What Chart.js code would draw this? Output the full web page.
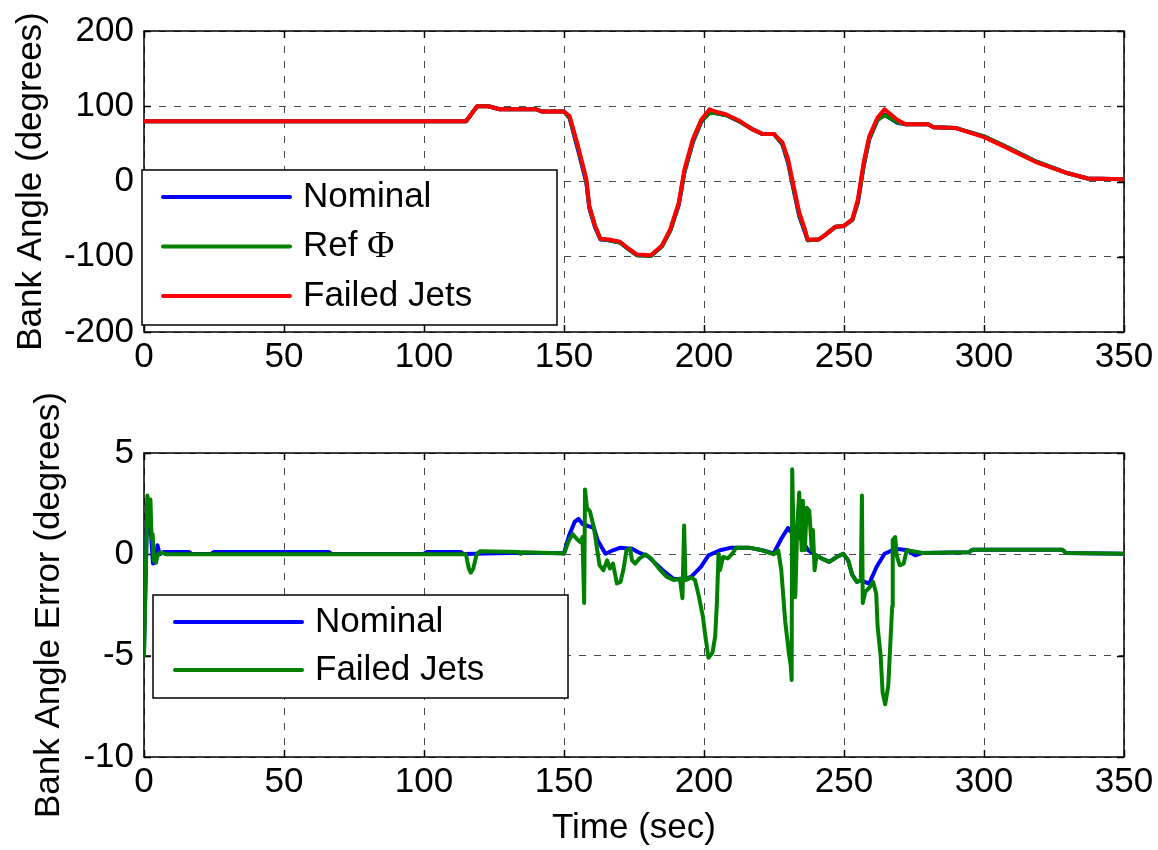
<!DOCTYPE html>
<html>
<head>
<meta charset="utf-8">
<title>Bank Angle</title>
<script src="https://cdn.jsdelivr.net/npm/chart.js@4.4.1/dist/chart.umd.min.js"></script>
<style>
  html, body { margin: 0; padding: 0; background: #ffffff; }
  #wrap { position: relative; width: 1158px; height: 850px; overflow: hidden; background: #ffffff; }
  canvas { position: absolute; left: 0; }
  #bank { top: 0; width: 1158px; height: 420px; }
  #err { top: 360px; width: 1158px; height: 490px; }
</style>
</head>
<body>
<div id="wrap">
  <canvas id="bank" width="1158" height="420"></canvas>
  <canvas id="err" width="1158" height="490"></canvas>
</div>
<script>
// ---- Bank angle history (deg) ----
const bankTime    = [0, 115, 119, 123, 127, 140, 142, 150, 152, 155, 158, 159, 161, 163, 166, 170, 173, 176, 181, 185, 188, 191, 193, 196, 199, 202, 204, 208, 213, 217, 221, 225, 228, 230, 232, 234, 236, 237, 241, 243, 247, 250, 253, 255, 257, 259, 262, 264.5, 269, 272, 280, 282, 290, 300, 308, 319, 329, 337, 350];
const bankNominal = [80, 80, 100, 100, 96, 96, 93, 93, 84, 42, -2, -35, -60, -77, -78, -81, -90, -98, -99, -86, -65, -31, 12, 52, 79, 92, 91, 88, 79, 70, 63, 63, 49, 25, -11, -46, -67, -78, -77, -72, -60, -59, -51, -27, 20, 56, 82, 89, 78, 76, 76, 72, 71, 60, 46, 26, 12, 4, 3];
const bankRef     = [80, 80, 100, 100, 96, 96, 93, 93, 85, 45, 0, -33, -58, -76, -78, -81, -90, -98, -99, -86, -65, -30, 13, 53, 80, 91, 91, 88, 79, 70, 63, 63, 50, 27, -9, -44, -65, -78, -77, -72, -60, -59, -51, -26, 21, 57, 82, 88, 79, 76, 76, 72, 71, 60, 46, 26, 12, 4, 3];
const bankFailed  = [80, 80, 100, 100, 96, 96, 93, 93, 87, 47, 3, -32, -58, -76, -77, -80, -89, -97, -98, -85, -63, -28, 16, 56, 82, 96, 93, 89, 80, 70, 63, 63, 52, 30, -6, -41, -63, -77, -77, -72, -60, -59, -50, -23, 25, 60, 85, 96, 82, 76, 76, 72, 71, 59, 45, 25, 12, 4, 3];

// ---- Bank angle error (deg) ----
const errNominalTime = [0, 0.6, 1.2, 2, 2.6, 3.2, 4.3, 4.8, 5.6, 7, 16, 17, 24, 25, 66, 67, 100, 101, 113, 114, 135, 150, 151.8, 153.8, 155.2, 156.6, 158.5, 160.7, 162, 164.8, 167.5, 170.2, 174.3, 177, 180, 185, 189, 193, 195.5, 198.9, 201.6, 205.7, 209.8, 216, 220.8, 224.9, 227.6, 230, 231.7, 234, 237.2, 240, 242, 244.7, 247.4, 249.7, 251.5, 252.9, 254.6, 256, 259, 261.7, 264.5, 268.6, 272.7, 275.4, 278, 294.5, 295.9, 328, 329.3, 350];
const errNominal     = [-4.8, -1, 2.5, 1.5, 0.8, -0.45, -0.4, 0.45, 0, 0.12, 0.12, 0.02, 0.02, 0.12, 0.12, 0.02, 0.02, 0.12, 0.12, 0.02, 0.08, 0.05, 0.93, 1.6, 1.75, 1.5, 1.4, 1.3, 0.7, 0.03, 0.2, 0.33, 0.28, 0.07, -0.1, -0.75, -1.2, -1.25, -1.1, -0.62, -0.05, 0.2, 0.33, 0.33, 0.2, 0.05, 0.77, 1.3, 1.0, 0.9, 0.2, -0.05, -0.2, -0.37, -0.13, 0.03, -0.3, -1.0, -1.36, -1.3, -1.44, -0.6, 0.03, 0.28, 0.2, -0.05, 0.07, 0.1, 0.23, 0.23, 0.07, 0.03];
const errFailedTime  = [0, 0.6, 1.2, 1.6, 2.0, 2.3, 2.7, 3.1, 3.5, 4.2, 5, 6, 8, 115, 116, 116.7, 117.6, 118.8, 120, 134, 134.5, 135, 149, 150, 151.8, 153.1, 154.5, 155.9, 156.6, 157.2, 157.5, 158.2, 159.3, 160.7, 161.7, 162.7, 164.1, 165.4, 166.4, 167.5, 168.9, 170.2, 171.3, 172.3, 173.6, 174.3, 175.4, 177, 179.1, 181.1, 183.9, 186.6, 189.3, 191.4, 192.3, 192.9, 193.4, 195.5, 196.8, 198.2, 199.6, 200.5, 201.6, 203, 204, 204.6, 205.2, 205.7, 206.8, 208.5, 210.1, 211.5, 216, 220.8, 224.9, 226.5, 227.6, 229, 230.3, 231, 231.3, 231.5, 232, 232.6, 233.3, 234, 234.5, 234.9, 235.3, 236, 236.7, 237.6, 238.5, 238.9, 239.5, 240.2, 242, 244.7, 247.4, 249.7, 251.5, 252.9, 254.6, 256, 256.4, 256.7, 257.6, 259.3, 260.4, 261.5, 262, 263.1, 263.8, 264.7, 265.8, 266.5, 267.2, 267.4, 268.3, 268.8, 269.9, 271.3, 272.4, 278.1, 294.5, 295.9, 328, 329.3, 350];
const errFailed      = [-5, -1.2, 2.9, 2.5, 1.4, 2.7, 0.8, 1.0, -0.3, -0.4, 0, 0.1, 0, 0, -0.7, -0.9, -0.7, 0, 0.15, 0.12, 0.02, 0.1, 0.05, 0.03, 0.7, 1.0, 0.77, 0.6, 0.85, -2.4, 3.2, 2.3, 2.1, 1.3, 0.36, -0.54, -0.78, -0.3, -0.7, -0.46, -1.44, -1.36, -0.7, 0.2, 0.28, -0.3, -0.46, -0.2, 0, -0.2, -0.7, -1.1, -1.27, -1.2, -2.17, 1.42, -1.27, -1.14, -1.27, -2.1, -3.07, -4.05, -5.1, -4.87, -4.05, -2.42, 0.03, -0.78, -0.13, -0.2, 0.03, 0.33, 0.33, 0.2, 0, 0.2, -0.78, -3.3, -4.87, -5.5, -6.2, 4.2, 0.7, -2.1, 1.34, 3.05, 1.5, 0.2, 2.65, 0.2, 2.3, 2.15, 0.2, 1.2, -0.78, -0.05, -0.2, -0.37, -0.13, 0.03, -0.3, -1.0, -1.36, -1.27, 2.9, -2.4, -1.85, -1.6, -1.36, -1.93, -3.56, -5.03, -6.83, -7.4, -6.5, -4.54, -2.58, 0.7, 0.85, -0.05, -0.54, -0.46, 0.2, 0.07, 0.1, 0.23, 0.23, 0.07, 0.03];

// ---- Axis ticks and legend text ----
const timeTicks = [0, 50, 100, 150, 200, 250, 300, 350];
const bankTicks = [-200, -100, 0, 100, 200];
const errTicks  = [-10, -5, 0, 5];
const bankLabels = ['Nominal', 'Ref \u03A6', 'Failed Jets'];
const errLabels  = ['Nominal', 'Failed Jets'];

const SANS  = '"Liberation Sans", Arial, Helvetica, sans-serif';
const SERIF = '"Liberation Serif", "Times New Roman", serif';
const FONT_SIZE = 35;
const BLUE = '#0000ff', GREEN = '#008000', RED = '#ff0000';

Chart.defaults.font.family = SANS;
Chart.defaults.font.size = FONT_SIZE;
Chart.defaults.color = '#000000';

const toPoints = (xs, ys) => xs.map((x, i) => ({ x: x, y: ys[i] }));

// Box, inward tick marks
const framePlugin = {
  id: 'frame',
  beforeDatasetsDraw(chart) {
    const { ctx, chartArea: a, scales } = chart;
    const tk = 7;
    ctx.save();
    ctx.strokeStyle = '#000000';
    ctx.lineWidth = 1.5;
    ctx.beginPath();
    scales.x.ticks.forEach(t => {
      const px = Math.round(scales.x.getPixelForValue(t.value)) + 0.5;
      ctx.moveTo(px, a.bottom); ctx.lineTo(px, a.bottom - tk);
      ctx.moveTo(px, a.top);    ctx.lineTo(px, a.top + tk);
    });
    scales.y.ticks.forEach(t => {
      const py = Math.round(scales.y.getPixelForValue(t.value)) + 0.5;
      ctx.moveTo(a.left, py);  ctx.lineTo(a.left + tk, py);
      ctx.moveTo(a.right, py); ctx.lineTo(a.right - tk, py);
    });
    ctx.stroke();
    ctx.strokeRect(a.left, a.top, a.right - a.left, a.bottom - a.top);
    ctx.restore();
  }
};

// Legend drawn as a framed box inside the plot area
function legendBox(box) {
  return {
    id: 'legendBox',
    afterDatasetsDraw(chart) {
      const { ctx, chartArea: a } = chart;
      const x0 = a.left + box.dx, y0 = a.top + box.dy;
      ctx.save();
      ctx.fillStyle = '#ffffff';
      ctx.fillRect(x0, y0, box.w, box.h);
      ctx.strokeStyle = '#000000';
      ctx.lineWidth = 1.5;
      ctx.strokeRect(x0, y0, box.w, box.h);
      chart.data.datasets.forEach((ds, i) => {
        const y = y0 + box.first + i * box.step;
        ctx.strokeStyle = ds.borderColor;
        ctx.lineWidth = 4;
        ctx.lineCap = 'round';
        ctx.beginPath();
        ctx.moveTo(x0 + box.lineFrom, y);
        ctx.lineTo(x0 + box.lineTo, y);
        ctx.stroke();
        ctx.fillStyle = '#000000';
        ctx.textBaseline = 'middle';
        ctx.textAlign = 'left';
        let tx = x0 + box.text;
        for (const ch of ds.label) {
          const greek = /[\u0370-\u03FF]/.test(ch);
          ctx.font = (greek ? (FONT_SIZE + 2) + 'px ' + SERIF : FONT_SIZE + 'px ' + SANS);
          ctx.fillText(ch, tx, y + (greek ? 1 : 0));
          tx += ctx.measureText(ch).width;
        }
      });
      ctx.restore();
    }
  };
}

function lineSet(label, color, xs, ys, order) {
  return {
    label: label,
    data: toPoints(xs, ys),
    borderColor: color,
    backgroundColor: color,
    borderWidth: 4,
    borderCapStyle: 'round',
    borderJoinStyle: 'round',
    pointRadius: 0,
    tension: 0,
    fill: false,
    order: order
  };
}

function axes(yTicks, yTitle, yTitlePad, xTitle, xHeight) {
  const grid = { color: '#4a4a4a', lineWidth: 1, drawTicks: false };
  const border = { display: false, dash: [7, 8] };
  return {
    x: {
      type: 'linear', min: timeTicks[0], max: timeTicks[timeTicks.length - 1],
      grid: grid, border: border,
      afterBuildTicks: s => { s.ticks = timeTicks.map(v => ({ value: v })); },
      ticks: { padding: 4, maxRotation: 0, autoSkip: false, color: '#000' },
      title: { display: !!xTitle, text: xTitle || '', padding: { top: 0, bottom: 1 }, color: '#000' },
      afterFit: s => { s.height = xHeight; }
    },
    y: {
      type: 'linear', min: yTicks[0], max: yTicks[yTicks.length - 1],
      grid: grid, border: border,
      afterBuildTicks: s => { s.ticks = yTicks.map(v => ({ value: v })); },
      ticks: { padding: 10, autoSkip: false, color: '#000' },
      title: { display: true, text: yTitle, padding: { top: yTitlePad, bottom: 0 }, color: '#000' },
      afterFit: s => { s.width = 144; }
    }
  };
}

function baseOptions(scales, top) {
  return {
    responsive: false,
    animation: false,
    devicePixelRatio: 1,
    layout: { padding: { left: 0, right: 34, top: top, bottom: 0 } },
    plugins: { legend: { display: false }, tooltip: { enabled: false } },
    scales: scales
  };
}

// Upper plot: bank angle
new Chart(document.getElementById('bank'), {
  type: 'line',
  data: {
    datasets: [
      lineSet(bankLabels[0], BLUE,  bankTime, bankNominal, 2),
      lineSet(bankLabels[1], GREEN, bankTime, bankRef, 1),
      lineSet(bankLabels[2], RED,   bankTime, bankFailed, 0)
    ]
  },
  options: baseOptions(axes(bankTicks, 'Bank Angle (degrees)', 10, null, 88), 30),
  plugins: [framePlugin, legendBox({ dx: -2, dy: 139, w: 415, h: 155, first: 27, step: 49.5, lineFrom: 21, lineTo: 148, text: 161 })]
});

// Lower plot: bank angle error
new Chart(document.getElementById('err'), {
  type: 'line',
  data: {
    datasets: [
      lineSet(errLabels[0], BLUE,  errNominalTime, errNominal, 1),
      lineSet(errLabels[1], GREEN, errFailedTime,  errFailed, 0)
    ]
  },
  options: baseOptions(axes(errTicks, 'Bank Angle Error (degrees)', 28, 'Time (sec)', 93), 93),
  plugins: [framePlugin, legendBox({ dx: 9, dy: 142, w: 415, h: 103, first: 27, step: 48, lineFrom: 22, lineTo: 149, text: 162 })]
});
</script>
</body>
</html>
